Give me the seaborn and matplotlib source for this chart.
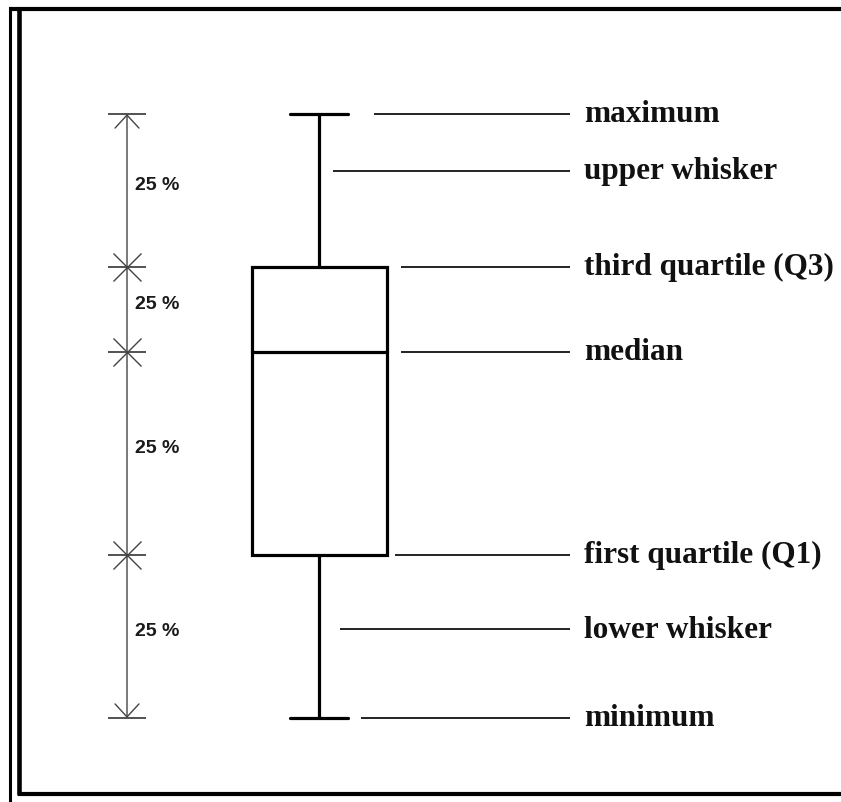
import numpy as np
import pandas as pd
import seaborn as sns
import matplotlib
matplotlib.use("Agg")
import matplotlib.pyplot as plt
from matplotlib import transforms
from matplotlib.lines import Line2D

# ---- data (conceptual scale: minimum = 0, maximum = 100) ----
stat_names = ["minimum", "first quartile (Q1)", "median", "third quartile (Q3)", "maximum"]
stat_values = [0.0, 27.0, 60.6, 74.7, 100.0]

label_names = ["maximum", "upper whisker", "third quartile (Q3)", "median",
               "first quartile (Q1)", "lower whisker", "minimum"]
label_values = [100.0, 90.6, 74.7, 60.6, 27.0, 14.7, 0.0]

pct_labels = ["25 %", "25 %", "25 %", "25 %"]

W, H = 841, 803
sns.set_theme(style="white")
fig = plt.figure(figsize=(W / 100, H / 100), dpi=100)
fig.patch.set_facecolor("white")
ax = fig.add_axes([0, 0, 1, 1])

df = pd.DataFrame({"value": stat_values})
sns.boxplot(data=df, y="value", ax=ax, width=0.8, color="white",
            linecolor="black", linewidth=2.3, whis=(0, 100),
            fill=True, capwidths=0.34)

# axis scaling: box width 0.8 units -> ~135 px, centred at ~319 px
upp = 168.75
cx = 319.0
ax.set_xlim(-cx / upp, (W - cx) / upp)
ppv = 6.04  # px per value unit
ax.set_ylim(-(H - 719) / ppv, 719 / ppv)
ax.axis("off")

blend = transforms.blended_transform_factory(ax.transAxes, ax.transData)

# ---- leader lines and labels ----
starts = [374, 333, 401, 401, 395, 340, 361]
for name, val, xs in zip(label_names, label_values, starts):
    ax.plot([xs / W, 570 / W], [val, val], transform=blend, color="#222222", lw=1.4,
            solid_capstyle="butt")
    ax.text(584 / W, val, name, transform=blend, ha="left", va="center",
            fontsize=22.5, fontweight="bold", family=["Liberation Serif", "DejaVu Serif"],
            color="#111111")

# ---- left 25% brackets ----
bx = 127 / W
ax.annotate("", xy=(bx, stat_values[-1]), xytext=(bx, stat_values[0]),
            xycoords=blend, textcoords=blend,
            arrowprops=dict(arrowstyle="<->,head_length=0.47,head_width=0.43",
                            mutation_scale=20, lw=1.0, color="#444444",
                            shrinkA=0, shrinkB=0))
ax.plot([bx] * len(stat_values), stat_values, transform=blend, ls="none",
        marker="_", ms=28, mew=1.3, color="#444444")
ax.plot([bx] * 3, stat_values[1:4], transform=blend, ls="none",
        marker="x", ms=20, mew=1.0, color="#444444")

mids = [(a + b) / 2 for a, b in zip(stat_values[:-1], stat_values[1:])][::-1]
for lab, m in zip(pct_labels, mids):
    ax.text(135 / W, m + 1.0, lab, transform=blend, ha="left", va="center",
            fontsize=14, fontweight="bold", family=["Liberation Sans", "DejaVu Sans"],
            color="#1a1a1a")

# ---- frame ----
def fline(x0, y0, x1, y1, lw):
    fig.add_artist(Line2D([x0 / W, x1 / W], [1 - y0 / H, 1 - y1 / H],
                          lw=lw, color="black", solid_capstyle="butt"))

fline(10, 8, 10, 803, 2.2)
fline(19, 10, 19, 796, 3.3)
fline(9, 10, 841, 10, 3.0)
fline(18, 795, 841, 795, 3.0)

fig.savefig("out.png", dpi=100, facecolor="white")
